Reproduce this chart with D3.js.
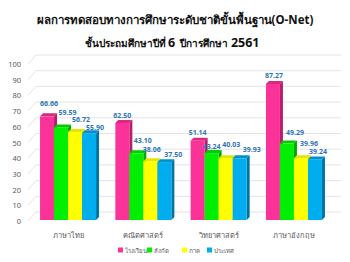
<!DOCTYPE html>
<html>
<head>
<meta charset="utf-8">
<script src="https://cdn.jsdelivr.net/npm/d3@7"></script>
<style>
  body { margin: 0; background: #fff; }
  svg { display: block; font-family: "Noto Sans", "DejaVu Sans", sans-serif; }
</style>
</head>
<body>
<svg id="chart" width="350" height="262"></svg>
<script>
let categories = ["ภาษาไทย", "คณิตศาสตร์", "วิทยาศาสตร์", "ภาษาอังกฤษ"],
    seriesNames = ["โรงเรียน", "สังกัด", "ภาค", "ประเทศ"],
    school = [66.66, 62.50, 51.14, 87.27],
    affiliation = [59.59, 43.10, 43.24, 49.29],
    region = [56.72, 38.06, 40.03, 39.96],
    country = [55.90, 37.50, 39.93, 39.24],
    yTicks = [0, 10, 20, 30, 40, 50, 60, 70, 80, 90, 100];

let seriesValues = [school, affiliation, region, country];
let colors = [
    { front: '#fb3399', side: '#b51f6c', top: '#d8297f' },
    { front: '#00ef00', side: '#00a800', top: '#00cc00' },
    { front: '#ffff00', side: '#c9c900', top: '#e4e400' },
    { front: '#00aeef', side: '#0072a3', top: '#0091c9' }
];
// label nudges (px) per series / category, moved by hand like in the original
let labelDx = [[2, 0, 0, 1], [6.5, 6.5, 0, 8], [6, 1.5, 5.5, 8], [6, 9, 12, 3]],
    labelDy = [[-13, -7, -8, -8], [-14.5, -13, -7, -11.5], [-12, -12, -14, -15], [-5.5, -8, -9, -8]];

let svg = d3.select('#chart');
let depth = 3, wallDx = 8, wallDy = 9;

let y = d3.scaleLinear().domain([0, 100]).range([221, 64]);
let x = d3.scaleBand().domain(categories).range([30.4, 331.6])
    .paddingInner(0.256).paddingOuter(0.128);
let xs = d3.scaleBand().domain(seriesNames).range([0, x.bandwidth()]);

// titles
svg.append('text').attr('x', 175).attr('y', 24).attr('text-anchor', 'middle')
    .attr('font-size', 11.5).attr('font-weight', 'bold').attr('fill', '#111')
    .text('ผลการทดสอบทางการศึกษาระดับชาติขั้นพื้นฐาน(O-Net)');
let t2 = svg.append('text').attr('x', 172).attr('y', 47).attr('text-anchor', 'middle')
    .attr('font-weight', 'bold').attr('fill', '#111');
t2.append('tspan').attr('font-size', 10).text('ชั้นประถมศึกษาปีที่ ');
t2.append('tspan').attr('font-size', 12.5).text('6');
t2.append('tspan').attr('font-size', 10).attr('dx', 5).text('ปีการศึกษา ');
t2.append('tspan').attr('font-size', 12.5).text('2561');

// back wall gridlines with slanted left part
let grid = svg.append('g');
yTicks.forEach(t => {
    let yy = y(t);
    grid.append('path')
        .attr('d', 'M28,' + yy + 'L' + (28 + wallDx) + ',' + (yy - wallDy) + 'L341,' + (yy - wallDy))
        .attr('fill', 'none').attr('stroke', '#e4e4e4').attr('stroke-width', 1);
});

// y axis labels
svg.append('g').selectAll('text').data(yTicks).join('text')
    .attr('x', 21).attr('y', d => y(d) + 3)
    .attr('text-anchor', 'end').attr('font-size', 7.5).attr('fill', '#595959')
    .text(d => d);

// bars
let bars = svg.append('g');
seriesValues.forEach((vals, s) => {
    categories.forEach((c, i) => {
        let x0 = x(c) + xs(seriesNames[s]), x1 = x0 + xs.bandwidth();
        let y0 = y(0) - 1, y1 = y(vals[i]);
        let col = colors[s];
        let g = bars.append('g');
        g.append('path') // side
            .attr('d', 'M' + x1 + ',' + y1 + 'L' + (x1 + depth) + ',' + (y1 - depth) +
                'L' + (x1 + depth) + ',' + (y0 - depth) + 'L' + x1 + ',' + y0 + 'Z')
            .attr('fill', col.side);
        g.append('path') // top
            .attr('d', 'M' + x0 + ',' + y1 + 'L' + (x0 + depth) + ',' + (y1 - depth) +
                'L' + (x1 + depth) + ',' + (y1 - depth) + 'L' + x1 + ',' + y1 + 'Z')
            .attr('fill', col.top);
        g.append('rect').attr('x', x0).attr('y', y1)
            .attr('width', x1 - x0).attr('height', y0 - y1)
            .attr('fill', col.front);
    });
});

// value labels
let labels = svg.append('g');
seriesValues.forEach((vals, s) => {
    categories.forEach((c, i) => {
        labels.append('text')
            .attr('x', x(c) + xs(seriesNames[s]) + xs.bandwidth() / 2 + labelDx[s][i])
            .attr('y', y(vals[i]) + labelDy[s][i] + 2.5)
            .attr('text-anchor', 'middle').attr('font-size', 7).attr('font-weight', 'bold')
            .attr('fill', '#2e74b5')
            .text(vals[i].toFixed(2));
    });
});

// category labels
svg.append('g').selectAll('text').data(categories).join('text')
    .attr('x', d => x(d) + x.bandwidth() / 2).attr('y', 238)
    .attr('text-anchor', 'middle').attr('font-size', 7.5).attr('fill', '#595959')
    .text(d => d);

// legend
let legendX = [118, 147, 182, 207];
let legend = svg.append('g');
seriesNames.forEach((n, s) => {
    legend.append('rect').attr('x', legendX[s]).attr('y', 247.5)
        .attr('width', 5).attr('height', 5).attr('fill', colors[s].front);
    legend.append('text').attr('x', legendX[s] + 7).attr('y', 252.5)
        .attr('font-size', 6).attr('fill', '#595959').text(n);
});
</script>
</body>
</html>
